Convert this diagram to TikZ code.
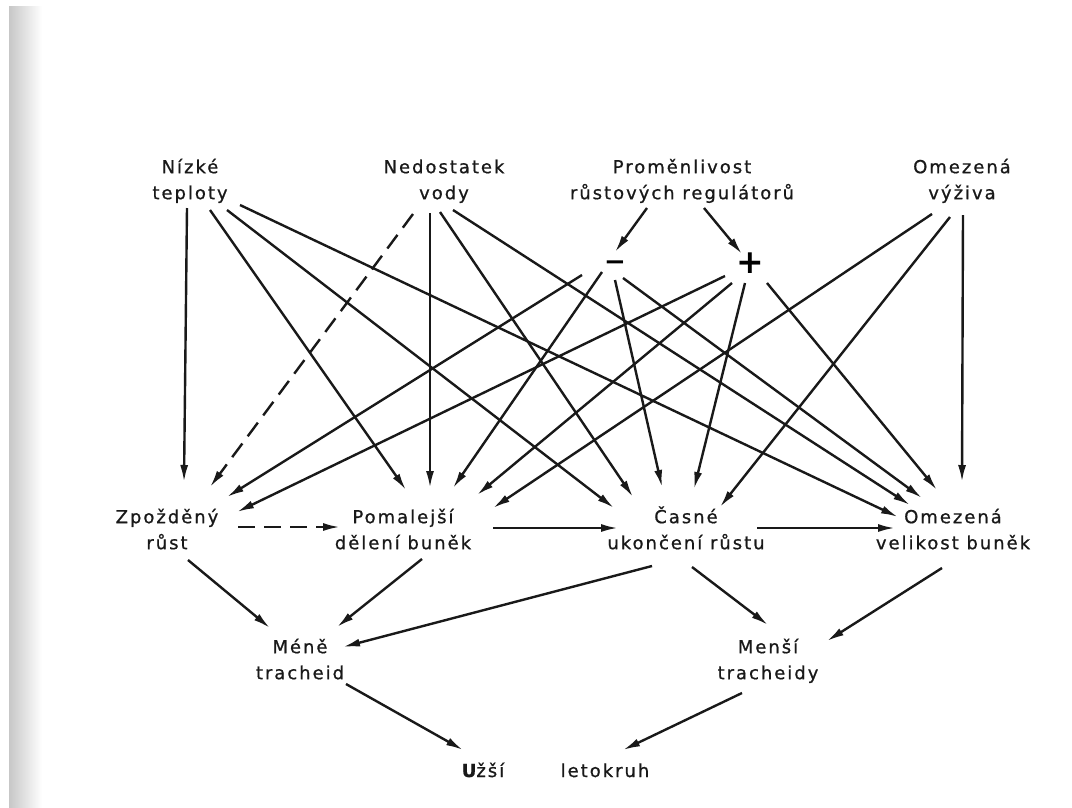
\documentclass[tikz,border=0pt]{standalone}
\usepackage{fontspec}
\newfontfamily\lab{DejaVu Sans}[LetterSpace=11, FakeBold=0.8]
\newfontfamily\sgnfont{DejaVu Sans}
\usetikzlibrary{arrows.meta}
\newcommand\twol[2]{\begin{tabular}{@{}c@{}}#1\\#2\end{tabular}}
\begin{document}
\begin{tikzpicture}[x=1pt,y=-1pt,
  lbl/.style={inner sep=0pt, text=black!90, font=\lab\fontsize{18}{26}\selectfont},
  sgn/.style={inner sep=0pt, text depth=0pt},
  conn/.style={line width=2.4pt, black!90, -{Latex[length=17pt,width=8pt]}},
  dconn/.style={conn, dash pattern=on 17pt off 9pt},
]
\useasboundingbox (0,0) rectangle (1072,807);
\fill[white] (0,0) rectangle (1072,807);
\shade[left color=black!22, right color=white] (9,6) rectangle (42,807);

% top causes
\node[lbl] (nizke) at (190,181) {\twol{Nízké}{teploty}};
\node[lbl] (nedo)  at (444,181) {\twol{Nedostatek}{vody}};
\node[lbl] (prom)  at (682,181) {\twol{Proměnlivost}{růstových regulátorů}};
\node[lbl] (omv)   at (962,181) {\twol{Omezená}{výživa}};
\node[sgn, font=\sgnfont\bfseries\fontsize{26}{28}\selectfont, text height=17pt] (minus) at (615,262) {−};
\node[sgn, font=\sgnfont\bfseries\fontsize{33}{35}\selectfont, text height=21pt] (plus) at (750,263) {+};
% middle
\node[lbl] (zp)  at (167,531) {\twol{Zpožděný}{růst}};
\node[lbl] (pom) at (403,531) {\twol{Pomalejší}{dělení buněk}};
\node[lbl] (cas) at (686,531) {\twol{Časné}{ukončení růstu}};
\node[lbl] (omb) at (953,531) {\twol{Omezená}{velikost buněk}};
% bottom
\node[lbl] (mene)  at (300,661) {\twol{Méně}{tracheid}};
\node[lbl] (mensi) at (768,661) {\twol{Menší}{tracheidy}};
\node[lbl, text height=13pt, text depth=4pt] (uzsi) at (483,772.5) {{\bfseries U}žší};
\node[lbl, text height=13pt, text depth=4pt] (leto) at (605,772.5) {letokruh};

% from Nizke teploty
\draw[conn] ([shift={(-3,27)}]nizke.center) -- ([shift={(17,-49)}]zp.center);
\draw[conn] ([shift={(20,29)}]nizke.center) -- ([shift={(3,-41)}]pom.center);
\draw[conn] ([shift={(37,29)}]nizke.center) -- ([shift={(-72,-23)}]cas.center);
\draw[conn] ([shift={(50,24)}]nizke.center) -- ([shift={(-55,-14)}]omb.center);
% from Nedostatek vody
\draw[dconn] ([shift={(-31,33)}]nedo.center) -- ([shift={(43,-44)}]zp.center);
\draw[conn] ([shift={(-14,32)}]nedo.center) -- ([shift={(27,-43)}]pom.center);
\draw[conn] ([shift={(-4,31)}]nedo.center) -- ([shift={(-53,-34)}]cas.center);
\draw[conn] ([shift={(9,29)}]nedo.center) -- ([shift={(-43,-26)}]omb.center);
% regulators
\draw[conn] ([shift={(-35,27)}]prom.center) -- ([shift={(0,-10)}]minus.center);
\draw[conn] ([shift={(22,27)}]prom.center) -- ([shift={(-8,-9)}]plus.center);
% from minus
\draw[conn] ([shift={(-33,13)}]minus.center) -- ([shift={(60,-34)}]zp.center);
\draw[conn] ([shift={(-13,10)}]minus.center) -- ([shift={(50,-43)}]pom.center);
\draw[conn] ([shift={(0,18)}]minus.center) -- ([shift={(-24,-44)}]cas.center);
\draw[conn] ([shift={(8,16)}]minus.center) -- ([shift={(-31,-33)}]omb.center);
% from plus
\draw[conn] ([shift={(-25,13)}]plus.center) -- ([shift={(70,-19)}]zp.center);
\draw[conn] ([shift={(-18,20)}]plus.center) -- ([shift={(74,-36)}]pom.center);
\draw[conn] ([shift={(-5,20)}]plus.center) -- ([shift={(8,-42)}]cas.center);
\draw[conn] ([shift={(17,20)}]plus.center) -- ([shift={(-16,-41)}]omb.center);
% from Omezena vyziva
\draw[conn] ([shift={(-30,33)}]omv.center) -- ([shift={(90,-23)}]pom.center);
\draw[conn] ([shift={(-12,36)}]omv.center) -- ([shift={(34,-24)}]cas.center);
\draw[conn] ([shift={(1,34)}]omv.center) -- ([shift={(9,-49)}]omb.center);
% horizontal
\draw[dconn] ([shift={(71,-4)}]zp.center) -- ([shift={(-63,-4)}]pom.center);
\draw[conn] ([shift={(90,-3)}]pom.center) -- ([shift={(-68,-3)}]cas.center);
\draw[conn] ([shift={(71,-3)}]cas.center) -- ([shift={(-58,-3)}]omb.center);
% lower level
\draw[conn] ([shift={(21,29)}]zp.center) -- ([shift={(-30,-33)}]mene.center);
\draw[conn] ([shift={(19,28)}]pom.center) -- ([shift={(37,-34)}]mene.center);
\draw[conn] ([shift={(-34,35)}]cas.center) -- ([shift={(43,-14)}]mene.center);
\draw[conn] ([shift={(6,36)}]cas.center) -- ([shift={(0,-36)}]mensi.center);
\draw[conn] ([shift={(-11,37)}]omb.center) -- ([shift={(59,-20)}]mensi.center);
\draw[conn] ([shift={(46,23)}]mene.center) -- ([shift={(-20,-22.5)}]uzsi.center);
\draw[conn] ([shift={(-26,32)}]mensi.center) -- ([shift={(18,-22.5)}]leto.center);
\end{tikzpicture}
\end{document}
